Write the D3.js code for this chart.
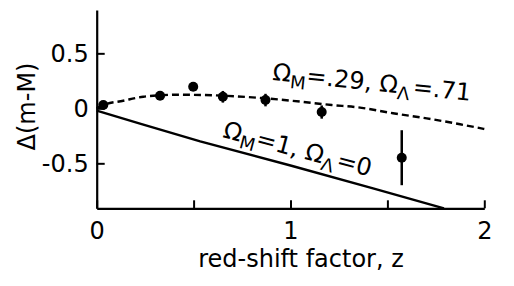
<!DOCTYPE html>
<html><head><meta charset="utf-8">
<script src="https://cdn.jsdelivr.net/npm/d3@7"></script>
<style>
body{margin:0;background:#fff;}
text{font-family:"DejaVu Sans",sans-serif;fill:#000;}
</style></head>
<body><svg id="c" width="514" height="286"></svg>
<script>
// Observations
const obsZ = [0.034, 0.327, 0.498, 0.651, 0.871, 1.161, 1.574];
const obsD = [0.030, 0.115, 0.196, 0.105, 0.075, -0.034, -0.449];
const obsErr = [0, 0, 0, 0.053, 0.057, 0.06, 0.25];
// Model ΩM=.29, ΩΛ=.71 (dashed)
const lcdmZ = [0, 0.034, 0.137, 0.24, 0.327, 0.413, 0.548, 0.652, 0.868, 1.006, 1.213, 1.348, 1.529, 1.703, 1.875, 2.0];
const lcdmD = [0, 0.030, 0.069, 0.105, 0.118, 0.124, 0.121, 0.115, 0.091, 0.069, 0.030, 0.009, -0.045, -0.091, -0.145, -0.188];
// Model ΩM=1, ΩΛ=0 (solid)
const emZ = [0, 0.232, 0.534, 1.0, 1.426, 1.792];
const emD = [-0.021, -0.143, -0.300, -0.520, -0.728, -0.909];
// Ticks
const xTicks = [0, 0.5, 1, 1.5, 2];
const xTickLabels = ["0", "", "1", "", "2"];
const yTicks = [-0.5, 0, 0.5];
const yTickLabels = ["-0.5", "0", "0.5"];

const svg = d3.select("#c");
const x = d3.scaleLinear().domain([0, 2]).range([96.7, 484.3]);
const y = d3.scaleLinear().domain([-0.909, 0.894]).range([208.3, 10]);

// axes
const xAxis = d3.axisBottom(x).tickValues(xTicks)
  .tickFormat((d, i) => xTickLabels[i]).tickSizeInner(-8).tickSizeOuter(0).tickPadding(13.5);
const gx = svg.append("g").attr("transform", `translate(0,${y(-0.909)})`).call(xAxis);
const yAxis = d3.axisLeft(y).tickValues(yTicks)
  .tickFormat((d, i) => yTickLabels[i]).tickSizeInner(-8).tickSizeOuter(0).tickPadding(8);
const gy = svg.append("g").attr("transform", `translate(${x(0)},0)`).call(yAxis);
[gx, gy].forEach(g => {
  g.select(".domain").attr("stroke", "#000").attr("stroke-width", 2.2);
  g.selectAll(".tick line").attr("stroke", "#000").attr("stroke-width", 2);
  g.selectAll(".tick text").attr("font-size", 24).attr("font-family", "DejaVu Sans");
});

// curves
const line = d3.line().x(d => x(d[0])).y(d => y(d[1]));
svg.append("path").datum(lcdmZ.map((z, i) => [z, lcdmD[i]]))
  .attr("d", line.curve(d3.curveMonotoneX)).attr("fill", "none").attr("stroke", "#000")
  .attr("stroke-width", 2.4).attr("stroke-dasharray", "7,4");
svg.append("path").datum(emZ.map((z, i) => [z, emD[i]]))
  .attr("d", d3.line().x(d => x(d[0])).y(d => y(d[1]))).attr("fill", "none").attr("stroke", "#000")
  .attr("stroke-width", 2.4);

// error bars and points
const pts = obsZ.map((z, i) => ({z, d: obsD[i], e: obsErr[i]}));
svg.selectAll(".err").data(pts.filter(p => p.e > 0)).join("line")
  .attr("x1", p => x(p.z)).attr("x2", p => x(p.z))
  .attr("y1", p => y(p.d - p.e)).attr("y2", p => y(p.d + p.e))
  .attr("stroke", "#000").attr("stroke-width", 2.5);
svg.selectAll(".pt").data(pts).join("circle")
  .attr("cx", p => x(p.z)).attr("cy", p => y(p.d)).attr("r", 5).attr("fill", "#000");

// axis labels
svg.append("text").attr("x", 301).attr("y", 266.5).attr("text-anchor", "middle")
  .attr("font-size", 24).text("red-shift factor, z");
svg.append("text").attr("transform", "translate(35,106.5) rotate(-90)").attr("text-anchor", "middle")
  .attr("font-size", 24).text("Δ(m-M)");

// curve labels
function label(tx, ty, ang, parts) {
  const t = svg.append("text").attr("transform", `translate(${tx},${ty}) rotate(${ang})`).attr("font-size", 24);
  parts.forEach(p => {
    if (p.sub) t.append("tspan").attr("font-size", 18).attr("dy", 6).text(p.t);
    else t.append("tspan").attr("dy", p.after ? -6 : 0).attr("dx", p.gap || 0).text(p.t);
  });
}
label(272, 80, 6, [{t: "Ω"}, {t: "M", sub: true}, {t: "=.29, Ω", after: true}, {t: "Λ", sub: true}, {t: "=.71", after: true, gap: 3}]);
label(222, 137, 15, [{t: "Ω"}, {t: "M", sub: true}, {t: "=1, Ω", after: true}, {t: "Λ", sub: true}, {t: "=0", after: true, gap: 2}]);
</script></body></html>
